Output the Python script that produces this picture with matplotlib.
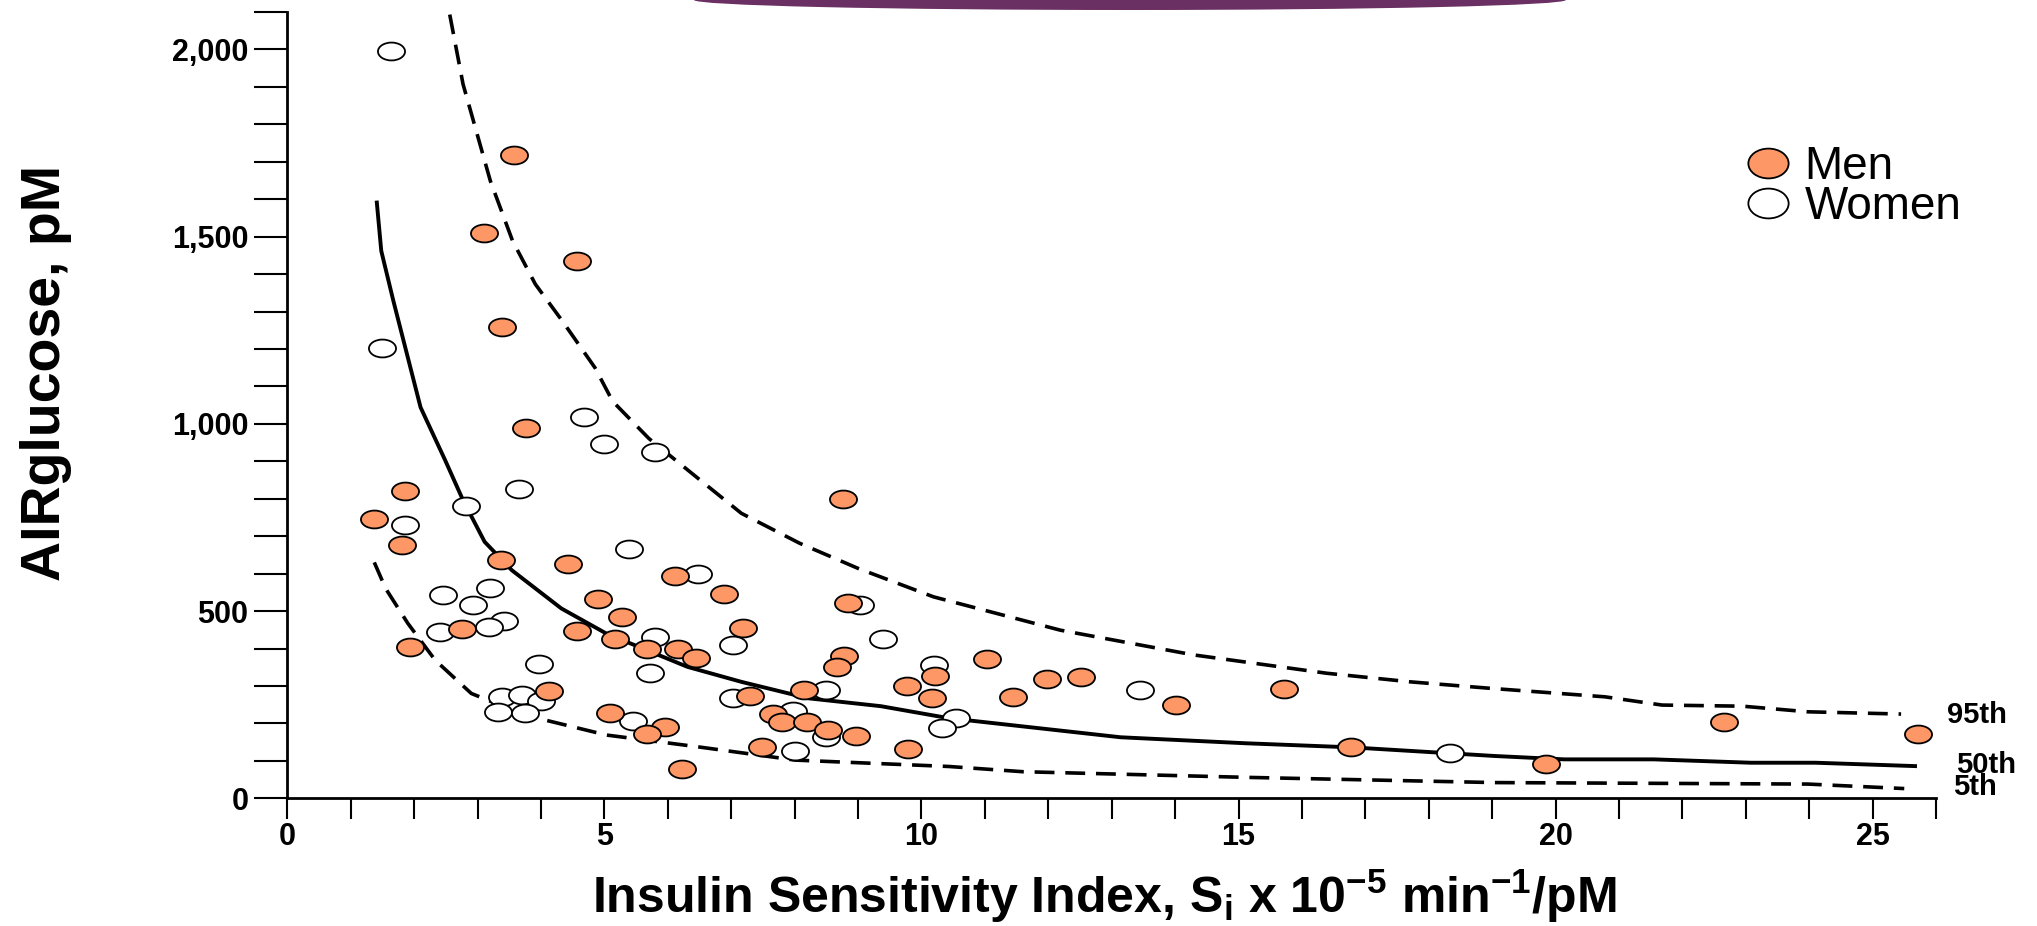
import matplotlib
matplotlib.use('Agg')
import matplotlib.pyplot as plt
from matplotlib.path import Path
from matplotlib.transforms import Affine2D
from matplotlib.lines import Line2D
from matplotlib.patches import Ellipse

plt.rcParams['font.family'] = ['Liberation Sans', 'DejaVu Sans']
plt.rcParams['mathtext.fontset'] = 'custom'

# data
men_x = [3.57, 3.10, 4.57, 3.39, 3.77, 1.85, 1.36, 1.80, 3.37, 4.43, 6.11, 6.89, 4.90,
         5.28, 7.19, 2.75, 4.56, 1.94, 5.16, 5.67, 6.16, 6.45, 8.76, 8.84, 8.78, 8.67,
         4.13, 7.29, 8.15, 5.08, 5.96, 5.67, 7.66, 7.80, 8.20, 8.53, 8.96, 7.49, 6.23,
         9.77, 10.21, 10.17, 9.78, 11.03, 11.44, 11.98, 12.51, 14.02, 15.72, 16.78,
         19.85, 22.65, 25.72]
men_y = [1719, 1509, 1436, 1259, 988, 821, 746, 676, 636, 627, 594, 545, 532,
         484, 454, 451, 446, 405, 425, 400, 400, 374, 799, 522, 381, 351,
         286, 274, 289, 227, 191, 172, 224, 205, 205, 182, 166, 136, 78,
         300, 327, 267, 133, 371, 270, 319, 325, 248, 293, 136,
         92, 205, 173]

women_x = [1.63, 1.49, 4.67, 4.99, 5.80, 3.66, 2.81, 1.86, 5.39, 6.48, 2.46, 3.20, 2.92,
           3.41, 3.18, 2.41, 9.03, 5.80, 7.03, 9.39, 3.96, 5.72, 3.39, 3.70, 4.00, 3.32,
           3.75, 5.45, 7.02, 8.49, 7.98, 8.49, 8.00, 10.19, 10.54, 10.32, 13.45, 18.34]
women_y = [1997, 1202, 1017, 945, 926, 825, 781, 731, 666, 598, 543, 562, 517,
           474, 458, 443, 517, 430, 409, 425, 359, 335, 271, 277, 259, 231,
           227, 207, 267, 289, 234, 165, 127, 356, 215, 187, 289, 120]

p95_x = [2.56, 2.77, 3.2, 3.55, 3.91, 4.33, 4.85, 5.13, 5.7, 6.45, 7.16, 8.08, 9.0,
         10.19, 12.19, 14.29, 16.39, 17.71, 18.95, 20.78, 21.68, 22.95, 23.98, 25.45]
p95_y = [2093, 1907, 1649, 1489, 1373, 1276, 1150, 1060, 961, 858, 761, 681, 614,
         538, 449, 383, 334, 311, 294, 271, 249, 246, 231, 225]

p50_x = [1.41, 1.48, 1.67, 2.10, 2.49, 2.77, 3.11, 3.54, 4.32, 5.03, 6.31, 7.16, 8.22,
         9.36, 10.43, 13.14, 15.11, 16.79, 19.04, 20.14, 21.55, 23.08, 24.1, 25.67]
p50_y = [1591, 1462, 1329, 1044, 902, 796, 685, 609, 507, 440, 351, 311, 267,
         246, 214, 163, 147, 136, 113, 104, 104, 95, 95, 86]

p5_x = [1.37, 1.55, 1.90, 2.33, 2.90, 3.75, 5.03, 6.45, 8.01, 10.43, 11.6, 15.11,
        19.04, 23.98, 25.5]
p5_y = [630, 560, 467, 369, 280, 222, 169, 138, 102, 85, 71, 56, 42, 38, 26]

curve_labels = ['95th', '50th', '5th']
curve_label_pos = [(26.17, 222), (26.31, 89), (26.27, 31)]

x_ticks = [0, 5, 10, 15, 20, 25]
x_ticklabels = ['0', '5', '10', '15', '20', '25']
y_ticks = [0, 500, 1000, 1500, 2000]
y_ticklabels = ['0', '500', '1,000', '1,500', '2,000']

orange = '#fd9866'

# flattened ellipse markers
ell = Path.unit_circle().transformed(Affine2D().scale(1, 0.66))
ell_leg = Path.unit_circle().transformed(Affine2D().scale(1, 0.74))

fig = plt.figure(figsize=(20.37, 9.26), dpi=100)
ax = fig.add_axes([0.1411, 0.1379, 0.8093, 0.8492])

# purple banner at the top of the slide
fig.add_artist(Ellipse((0.5547, 1.0), 0.428, 0.0216, transform=fig.transFigure,
                       facecolor='#6a2f63', edgecolor='none'))

ax.plot(p95_x, p95_y, color='black', lw=2.6, dashes=(5.5, 3))
ax.plot(p50_x, p50_y, color='black', lw=2.8)
ax.plot(p5_x, p5_y, color='black', lw=2.6, dashes=(5.5, 3))

ax.scatter(women_x, women_y, s=380, marker=ell, facecolor='white',
           edgecolor='black', linewidths=1.3, zorder=3)
ax.scatter(men_x, men_y, s=380, marker=ell, facecolor=orange,
           edgecolor='black', linewidths=1.3, zorder=4)

for lab, (lx, ly) in zip(curve_labels, curve_label_pos):
    ax.text(lx, ly, lab, fontsize=21, fontweight='bold', ha='left', va='center',
            clip_on=False)

ax.set_xlim(0, 26)
ax.set_ylim(0, 2100)
ax.set_xticks(x_ticks)
ax.set_xticklabels(x_ticklabels, fontsize=22, fontweight='bold')
ax.set_xticks(range(0, 27), minor=True)
ax.set_yticks(y_ticks)
ax.set_yticklabels(y_ticklabels, fontsize=22, fontweight='bold')
ax.set_yticks(range(0, 2101, 100), minor=True)
ax.tick_params(axis='x', which='both', length=15, width=1.5, pad=2)
ax.tick_params(axis='y', which='both', length=24, width=1.5, pad=4)

for s in ['top', 'right']:
    ax.spines[s].set_visible(False)
for s in ['left', 'bottom']:
    ax.spines[s].set_linewidth(2)

fig.text(0.0226, 0.597, 'AIRglucose, pM', rotation=90, ha='center', va='center',
         fontsize=40, fontweight='bold')
fig.text(0.542, 0.014,
         'Insulin Sensitivity Index, S$_\\mathregular{i}$ x 10$^{\\mathregular{\u22125}}$ '
         'min$^{\\mathregular{\u22121}}$/pM',
         ha='center', va='baseline', fontsize=36, fontweight='bold')

handles = [Line2D([], [], ls='none', marker=ell_leg, markersize=29, markerfacecolor=orange,
                  markeredgecolor='black', markeredgewidth=1.3),
           Line2D([], [], ls='none', marker=ell_leg, markersize=29, markerfacecolor='white',
                  markeredgecolor='black', markeredgewidth=1.3)]
ax.legend(handles, ['Men', 'Women'], loc='upper left', bbox_to_anchor=(0.8567, 0.8434),
          bbox_transform=fig.transFigure, frameon=False, borderpad=0,
          prop={'family': ['Liberation Sans Narrow', 'Liberation Sans'], 'size': 33},
          handlelength=1.0, handletextpad=0.3, labelspacing=-0.09, borderaxespad=0)

fig.savefig('out.png', dpi=100)
